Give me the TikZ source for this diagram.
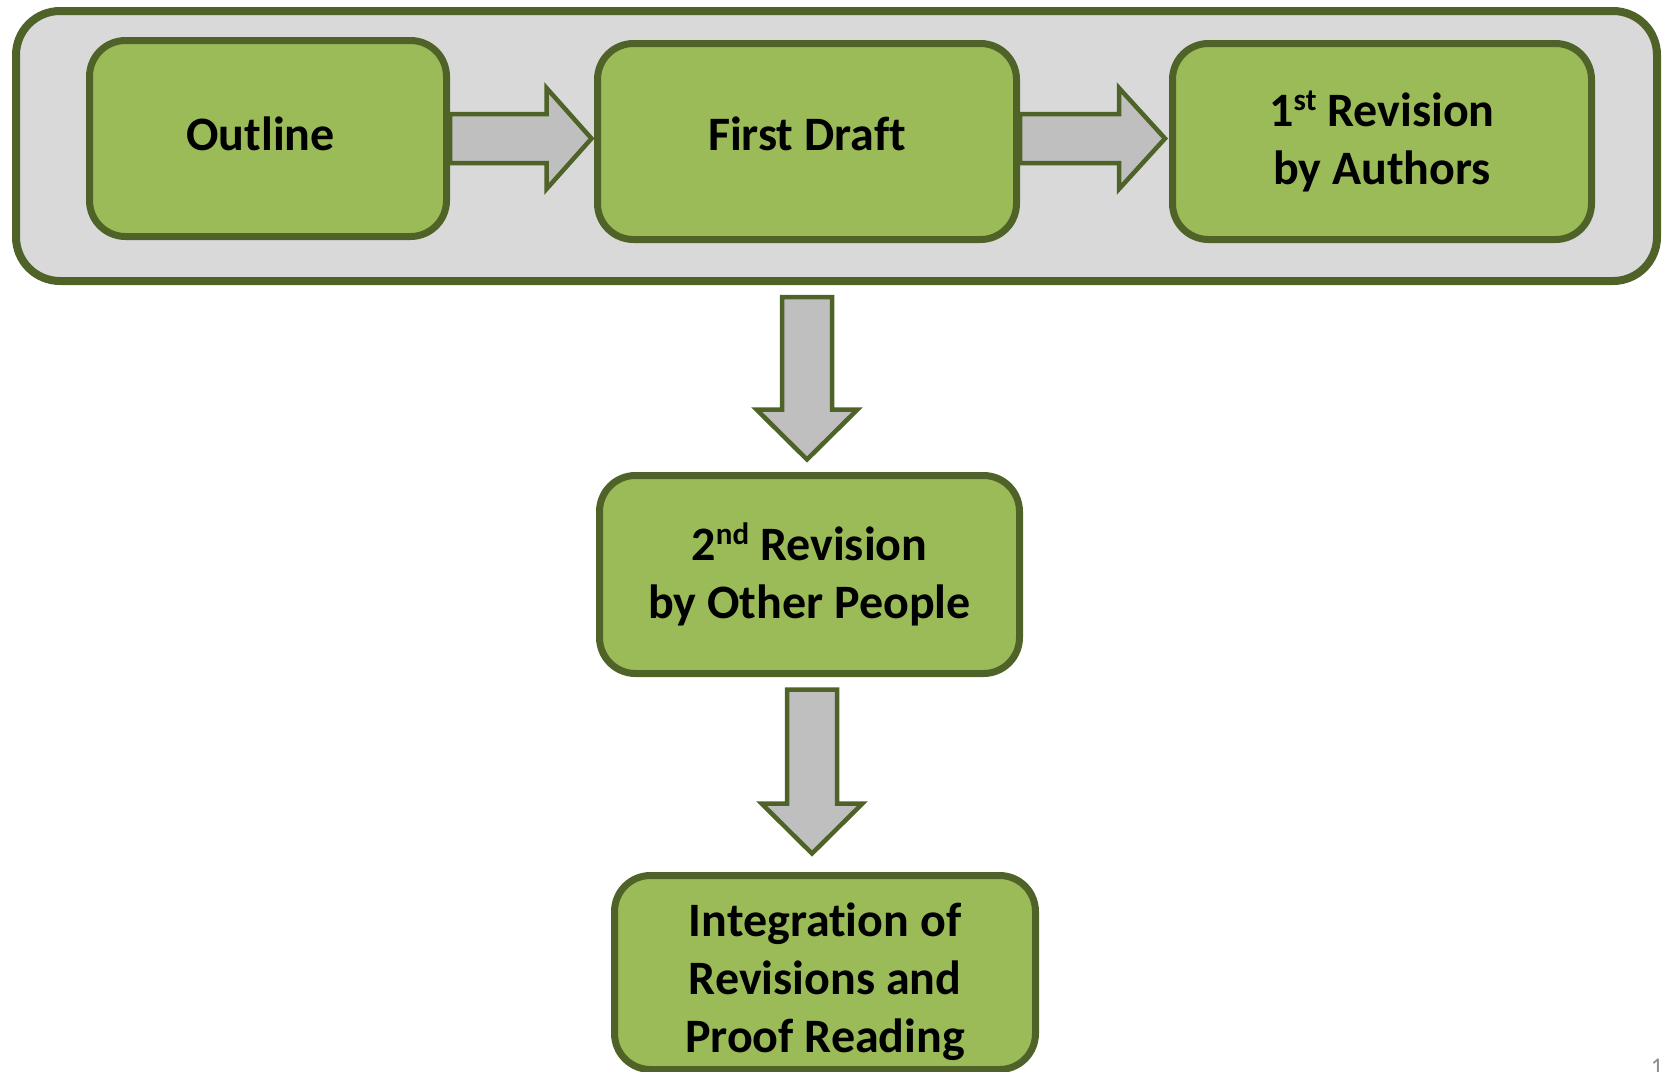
\documentclass[tikz,border=0pt]{standalone}
\usepackage{fontspec}
\setmainfont{Carlito}[Ligatures=NoCommon]
\usetikzlibrary{calc}
\definecolor{grn}{HTML}{9BBB59}
\definecolor{dgrn}{HTML}{4F6228}
\definecolor{cgray}{HTML}{D9D9D9}
\definecolor{agray}{HTML}{BFBFBF}
\definecolor{pgray}{HTML}{8C8C8C}
\pgfdeclarelayer{bg}
\pgfdeclarelayer{mid}
\pgfsetlayers{bg,mid,main}
\newcommand{\mysup}[1]{\raisebox{0.33em}{\fontsize{15.5pt}{15.5pt}\selectfont #1}}
\begin{document}
\begin{tikzpicture}[x=0.5pt,y=-0.5pt,
  stepbox/.style={draw=dgrn, fill=grn, line width=3.5pt, rounded corners=18pt,
    align=center, inner sep=0pt,
    font=\fontsize{24pt}{29pt}\selectfont\bfseries},
  framebox/.style={draw=dgrn, fill=cgray, line width=4pt, rounded corners=22pt, inner sep=0pt},
  blockarrow/.style={draw=dgrn, fill=agray, line width=2.25pt, line join=miter}]
\useasboundingbox (0,0) rectangle (1662,1072);

% step boxes
\node[stepbox, minimum width=178.5pt, minimum height=98pt] (outline) at (268,138.5) {\rule[-4.5pt]{0pt}{4.5pt}Outline\hspace*{7.5pt}};
\node[stepbox, minimum width=209.5pt, minimum height=98pt] (draft) at (807,141.5) {\rule[-7.4pt]{0pt}{7.4pt}First Draft};
\node[stepbox, minimum width=209.5pt, minimum height=98pt] (rev1) at (1382,141.5) {1\mysup{st} Revision\\by Authors};
\node[stepbox, minimum width=210pt, minimum height=99pt] (rev2) at (809.5,574.5) {2\mysup{nd} Revision\\by Other People};
\node[stepbox, minimum width=210.5pt, minimum height=97pt] (integ) at (825,972.5) {\rule{0pt}{26pt}Integration of\\Revisions and\\Proof Reading};

% container
\begin{pgfonlayer}{bg}
\node[framebox, minimum width=820.5pt, minimum height=135pt] (frame) at (836.5,146) {};
\end{pgfonlayer}

% block arrows
\begin{pgfonlayer}{mid}
\coordinate (a1s) at (outline.east);
\coordinate (a1t) at ($(draft.west |- outline.east)+(-2.5,0)$);
\filldraw[blockarrow] ($(a1s)+(0,-24.5)$) -- ($(a1t)+(-45,-24.5)$) -- ($(a1t)+(-45,-50.5)$) -- (a1t)
  -- ($(a1t)+(-45,50.5)$) -- ($(a1t)+(-45,24.5)$) -- ($(a1s)+(0,24.5)$) -- cycle;
\coordinate (a2s) at (draft.east |- outline.east);
\coordinate (a2t) at ($(rev1.west |- outline.east)+(-4,0)$);
\filldraw[blockarrow] ($(a2s)+(0,-24.5)$) -- ($(a2t)+(-46,-24.5)$) -- ($(a2t)+(-46,-50.5)$) -- (a2t)
  -- ($(a2t)+(-46,50.5)$) -- ($(a2t)+(-46,24.5)$) -- ($(a2s)+(0,24.5)$) -- cycle;
\coordinate (d1s) at ($(draft.south |- frame.south)+(0,12)$);
\coordinate (d1t) at ($(draft.south |- rev2.north)+(0,-12.5)$);
\filldraw[blockarrow] ($(d1s)+(-25,0)$) -- ($(d1t)+(-25,-50)$) -- ($(d1t)+(-50.5,-50)$) -- (d1t)
  -- ($(d1t)+(50.5,-50)$) -- ($(d1t)+(25,-50)$) -- ($(d1s)+(25,0)$) -- cycle;
\coordinate (d2s) at ($(rev2.south)+(2.5,12.5)$);
\coordinate (d2t) at ($(rev2.south |- integ.north)+(2.5,-18.5)$);
\filldraw[blockarrow] ($(d2s)+(-25,0)$) -- ($(d2t)+(-25,-50)$) -- ($(d2t)+(-50.5,-50)$) -- (d2t)
  -- ($(d2t)+(50.5,-50)$) -- ($(d2t)+(25,-50)$) -- ($(d2s)+(25,0)$) -- cycle;
\end{pgfonlayer}

% slide number
\node[font=\fontsize{12pt}{12pt}\selectfont, text=pgray, anchor=north, inner sep=0pt] (pgnum) at (1657,1059) {1};
\end{tikzpicture}
\end{document}
